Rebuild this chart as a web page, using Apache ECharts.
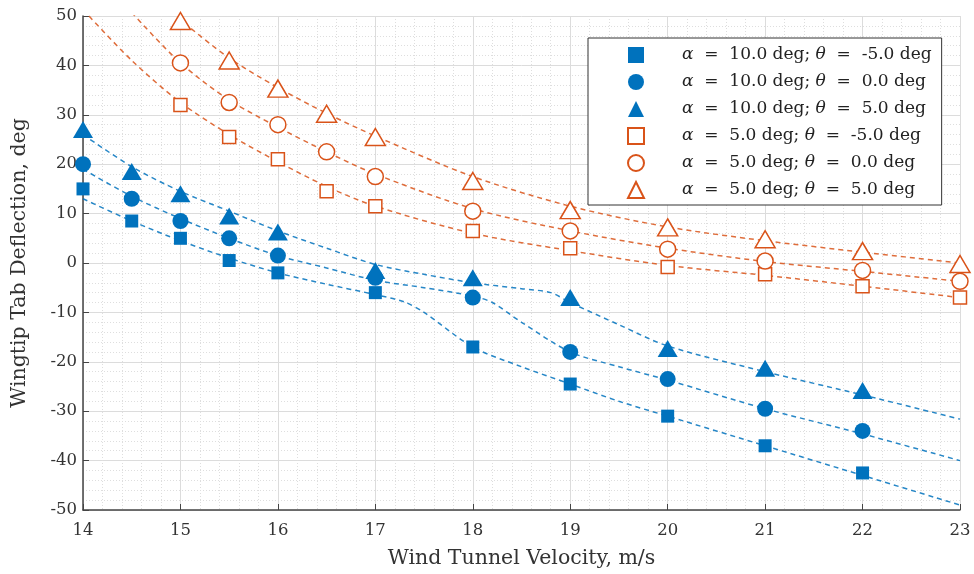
<!DOCTYPE html>
<html>
<head>
<meta charset="utf-8">
<title>Wingtip Tab Deflection</title>
<script src="https://cdn.jsdelivr.net/npm/echarts@6/dist/echarts.min.js"></script>
<style>
  html, body { margin: 0; padding: 0; background: #fff; }
  #chart { width: 974px; height: 574px; }
</style>
</head>
<body>
<div id="chart"></div>
<script>
// measured points, alpha = 10 deg (blue, filled)
const velocityA10 = [14, 14.5, 15, 15.5, 16, 17, 18, 19, 20, 21, 22];
const a10ThetaM5 = [15, 8.5, 5, 0.5, -2, -6, -17, -24.5, -31, -37, -42.5];
const a10Theta0 = [20, 13, 8.5, 5, 1.5, -3, -7, -18, -23.5, -29.5, -34];
const a10ThetaP5 = [27, 18.5, 14, 9.5, 6.3, -1.5, -3, -7, -17.3, -21.3, -25.8];

// measured points, alpha = 5 deg (orange, open)
const velocityA5 = [15, 15.5, 16, 16.5, 17, 18, 19, 20, 21, 22, 23];
const a5ThetaM5 = [32, 25.5, 21, 14.5, 11.5, 6.5, 3, -0.8, -2.3, -4.7, -7];
const a5Theta0 = [40.5, 32.5, 28, 22.5, 17.5, 10.5, 6.5, 2.8, 0.4, -1.5, -3.7];
const a5ThetaP5 = [49, 41, 35.3, 30.2, 25.5, 16.6, 10.7, 7.2, 4.8, 2.4, -0.2];

// dashed fit curves
const fitA10M5X = [14, 14.5, 15, 15.5, 16, 16.5, 17, 17.3, 17.5, 18, 18.5, 19, 19.5, 20, 21, 22, 23];
const fitA10M5Y = [13, 8.5, 4.5, 1, -2, -4.3, -6.4, -7.9, -10, -17, -21, -24.5, -28, -31, -37, -43, -49];
const fitA10T0X = [14, 14.5, 15, 15.5, 16, 16.5, 17, 17.5, 18, 18.2, 18.5, 19, 19.5, 20, 21, 22, 23];
const fitA10T0Y = [19, 13.5, 9, 5, 1.5, -1, -3.5, -5, -6.7, -8, -12, -18, -21, -23.7, -29.5, -34.6, -40];
const fitA10P5X = [14, 14.5, 15, 15.5, 16, 16.5, 17, 17.5, 18, 18.5, 18.8, 19, 19.5, 20, 21, 22, 23];
const fitA10P5Y = [26, 19.5, 14.5, 10.5, 6.5, 3, -0.3, -2.3, -4, -5.2, -6, -8, -12.5, -16.8, -22, -26.7, -31.6];

const fitA5M5X = [14, 14.5, 15, 15.5, 16, 16.5, 17, 18, 19, 20, 21, 22, 23];
const fitA5M5Y = [51.3, 41, 32.5, 26, 20.5, 15.5, 11.5, 6, 2.5, -0.5, -2.5, -4.7, -7];
const fitA5T0X = [14.5, 15, 15.5, 16, 16.5, 17, 18, 19, 20, 21, 22, 23];
const fitA5T0Y = [50.7, 40.5, 33, 27.5, 22.5, 18, 11, 6.5, 3, 0.3, -1.7, -3.7];
const fitA5P5X = [14.9, 15, 15.5, 16, 16.5, 17, 18, 19, 20, 21, 22, 23];
const fitA5P5Y = [51, 49.2, 41.5, 35.5, 30.3, 25.7, 17.5, 11.5, 7.3, 4.5, 2.2, 0];

const legendNames = [
    "α = 10.0 deg; θ = -5.0 deg",
    "α = 10.0 deg; θ = 0.0 deg",
    "α = 10.0 deg; θ = 5.0 deg",
    "α = 5.0 deg; θ = -5.0 deg",
    "α = 5.0 deg; θ = 0.0 deg",
    "α = 5.0 deg; θ = 5.0 deg",
];

const BLUE = "#0072BD";
const ORANGE = "#D95319";
const FONT = "'DejaVu Serif', 'Liberation Serif', serif";
const TEXT = "#333";

function pairs(xs, ys) {
    return xs.map((x, i) => [x, ys[i]]);
}

function markerSeries(name, xs, ys, symbol, size, filled) {
    const color = filled ? BLUE : ORANGE;
    return {
        name,
        type: "scatter",
        data: pairs(xs, ys),
        symbol,
        symbolSize: size,
        z: 5,
        itemStyle: filled
            ? { color, opacity: 1 }
            : { color: "#fff", borderColor: color, borderWidth: 1.5, opacity: 1 },
    };
}

function fitSeries(name, xs, ys, color) {
    return {
        name,
        type: "line",
        data: pairs(xs, ys),
        showSymbol: false,
        smooth: 0.3,
        silent: true,
        z: 3,
        lineStyle: { color, width: 1.5, type: [5, 4], opacity: 0.85 },
    };
}

const chart = echarts.init(document.getElementById("chart"), null, { renderer: "canvas" });

const gridLine = { show: true, lineStyle: { color: "#dcdcdc", width: 1 } };
const minorLine = { show: true, lineStyle: { color: "#dedede", width: 1, type: [1, 2] } };

chart.setOption({
    backgroundColor: "#fff",
    animation: false,
    textStyle: { fontFamily: FONT },
    grid: { left: 83, right: 14, top: 16, bottom: 64 },
    xAxis: {
        type: "value",
        min: 14,
        max: 23,
        interval: 1,
        name: "Wind Tunnel Velocity, m/s",
        nameLocation: "middle",
        nameGap: 38,
        nameTextStyle: { fontFamily: FONT, fontSize: 20.5, color: TEXT },
        axisLine: { onZero: false, lineStyle: { color: "#444", width: 1.5 } },
        axisTick: { inside: true, length: 6, lineStyle: { color: "#444" } },
        axisLabel: { fontFamily: FONT, fontSize: 16.5, color: TEXT, margin: 12 },
        splitLine: gridLine,
        minorTick: { show: false, splitNumber: 5 },
        minorSplitLine: minorLine,
    },
    yAxis: {
        type: "value",
        min: -50,
        max: 50,
        interval: 10,
        name: "Wingtip Tab Deflection, deg",
        nameLocation: "middle",
        nameGap: 53,
        nameTextStyle: { fontFamily: FONT, fontSize: 20.5, color: TEXT },
        axisLine: { show: true, onZero: false, lineStyle: { color: "#444", width: 1.5 } },
        axisTick: { show: true, inside: true, length: 6, lineStyle: { color: "#444" } },
        axisLabel: { fontFamily: FONT, fontSize: 16.5, color: TEXT, margin: 6 },
        splitLine: gridLine,
        minorTick: { show: false, splitNumber: 5 },
        minorSplitLine: minorLine,
    },
    legend: {
        data: legendNames,
        orient: "vertical",
        left: 588,
        top: 38,
        padding: [7, 10, 5, 39],
        itemWidth: 16,
        itemHeight: 16,
        itemGap: 7,
        backgroundColor: "#fff",
        borderColor: "#333",
        borderWidth: 1,
        borderRadius: 0,
        formatter: (name) => name.replace(/ = /g, "  =  ").replace(/([αθ])/g, "{i|$1}"),
        textStyle: {
            fontFamily: FONT,
            fontSize: 17,
            color: "#222",
            lineHeight: 20,
            padding: [0, 0, 0, 33],
            rich: { i: { fontFamily: FONT, fontStyle: "italic", fontSize: 17, lineHeight: 20 } },
        },
    },
    series: [
        fitSeries("fit1", fitA10M5X, fitA10M5Y, BLUE),
        fitSeries("fit2", fitA10T0X, fitA10T0Y, BLUE),
        fitSeries("fit3", fitA10P5X, fitA10P5Y, BLUE),
        fitSeries("fit4", fitA5M5X, fitA5M5Y, ORANGE),
        fitSeries("fit5", fitA5T0X, fitA5T0Y, ORANGE),
        fitSeries("fit6", fitA5P5X, fitA5P5Y, ORANGE),
        markerSeries(legendNames[0], velocityA10, a10ThetaM5, "rect", 13, true),
        markerSeries(legendNames[1], velocityA10, a10Theta0, "circle", 16, true),
        markerSeries(legendNames[2], velocityA10, a10ThetaP5, "triangle", [20, 17], true),
        markerSeries(legendNames[3], velocityA5, a5ThetaM5, "rect", 13, false),
        markerSeries(legendNames[4], velocityA5, a5Theta0, "circle", 16, false),
        markerSeries(legendNames[5], velocityA5, a5ThetaP5, "triangle", [20, 17], false),
    ],
});
</script>
</body>
</html>
